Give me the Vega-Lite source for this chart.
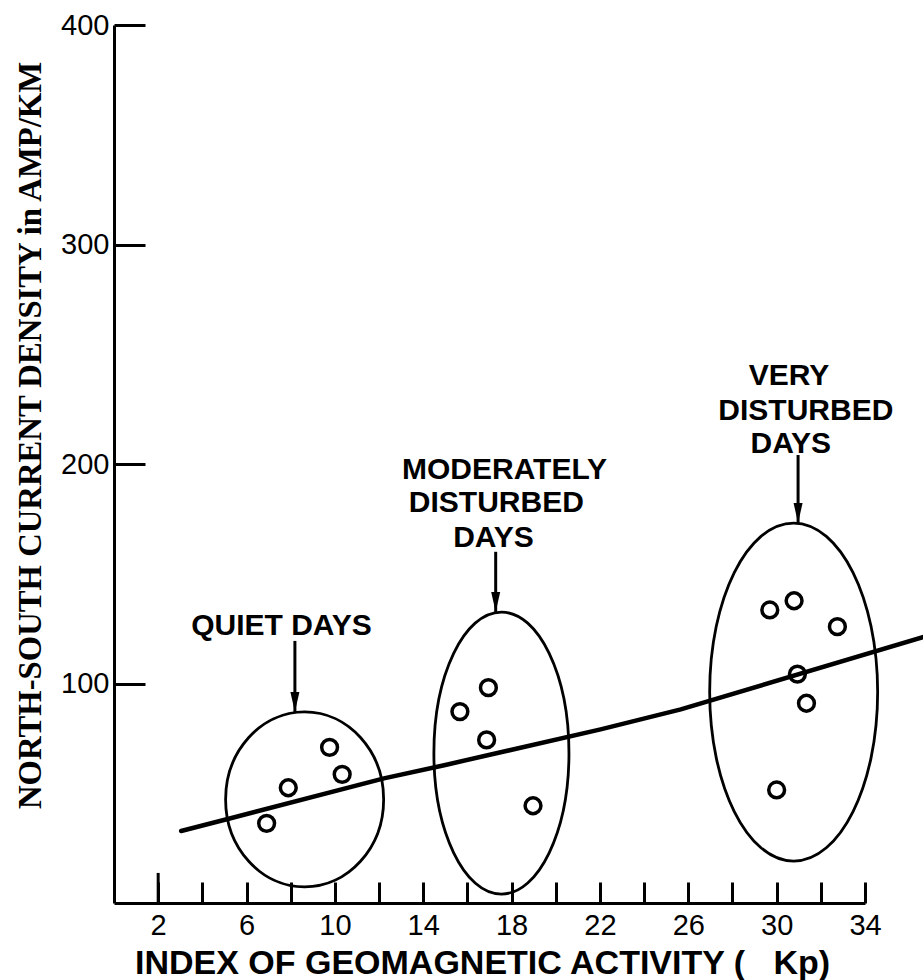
{
  "$schema": "https://vega.github.io/schema/vega-lite/v6.json",
  "width": 751,
  "height": 878,
  "autosize": {"type": "none"},
  "padding": {"left": 114, "top": 25, "right": 58, "bottom": 77},
  "background": "white",
  "config": {"view": {"stroke": null}, "font": "Liberation Sans"},
  "datasets": {
    "points": [
      {"group": "quiet", "x": 9.76, "y": 70.9},
      {"group": "quiet", "x": 10.33, "y": 58.6},
      {"group": "quiet", "x": 7.89, "y": 52.5},
      {"group": "quiet", "x": 6.91, "y": 36.3},
      {"group": "moderate", "x": 16.95, "y": 98.1},
      {"group": "moderate", "x": 15.66, "y": 87.2},
      {"group": "moderate", "x": 16.87, "y": 74.3},
      {"group": "moderate", "x": 18.97, "y": 44.3},
      {"group": "very", "x": 29.69, "y": 133.5},
      {"group": "very", "x": 30.79, "y": 137.7},
      {"group": "very", "x": 32.75, "y": 125.9},
      {"group": "very", "x": 30.94, "y": 104.3},
      {"group": "very", "x": 31.35, "y": 91.0},
      {"group": "very", "x": 30.0, "y": 51.5}
    ],
    "fit": [
      {"x": 3.04, "y": 32.8},
      {"x": 5.28, "y": 38.6},
      {"x": 12.22, "y": 56.8},
      {"x": 15.0, "y": 62.9},
      {"x": 22.03, "y": 79.1},
      {"x": 25.66, "y": 88.2},
      {"x": 36.66, "y": 121.2},
      {"x": 37.3, "y": 123.1}
    ],
    "quiet": [{"x": 8.63, "y": 47.2}],
    "moderate": [{"x": 17.54, "y": 68.3}],
    "very": [{"x": 30.77, "y": 96.1}],
    "arrows": [
      {"x": 8.19, "y": 119.4, "y2": 87.0},
      {"x": 17.28, "y": 160.0, "y2": 132.6},
      {"x": 30.97, "y": 204.1, "y2": 173.1},
      {"x": 2, "y": 13.7, "y2": 0}
    ],
    "heads": [
      {"x": 8.19, "y": 87.0},
      {"x": 17.28, "y": 132.6},
      {"x": 30.97, "y": 173.1}
    ],
    "labels": [
      {"text": "QUIET DAYS", "x": 7.58, "y": 122.1},
      {"text": "MODERATELY", "x": 17.68, "y": 193.3},
      {"text": "DISTURBED", "x": 17.31, "y": 178.3},
      {"text": "DAYS", "x": 17.18, "y": 162.3},
      {"text": "VERY", "x": 30.56, "y": 235.9},
      {"text": "DISTURBED", "x": 31.32, "y": 220.0},
      {"text": "DAYS", "x": 30.64, "y": 204.9}
    ]
  },
  "encoding": {
    "x": {
      "field": "x",
      "type": "quantitative",
      "scale": {"domain": [0, 34], "nice": false, "zero": false},
      "axis": {
        "values": [2, 4, 6, 8, 10, 12, 14, 16, 18, 20, 22, 24, 26, 28, 30, 32, 34],
        "labelExpr": "(datum.value - 2) % 4 == 0 ? datum.label : ''",
        "labelOverlap": false,
        "labelFlush": false,
        "tickSize": -21,
        "tickWidth": 3,
        "tickColor": "black",
        "domainColor": "black",
        "domainWidth": 3,
        "labelPadding": 29,
        "labelFontSize": 29,
        "labelColor": "black",
        "labelFont": "Liberation Sans",
        "grid": false,
        "title": "INDEX OF GEOMAGNETIC ACTIVITY (\u00a0\u00a0\u00a0Kp)",
        "titleFont": "Liberation Sans",
        "titleFontSize": 34,
        "titleFontWeight": "bold",
        "titleColor": "black",
        "titleX": 368,
        "titleY": 70,
        "titleAlign": "center",
        "titleBaseline": "alphabetic"
      }
    },
    "y": {
      "field": "y",
      "type": "quantitative",
      "scale": {"domain": [0, 400], "nice": false, "zero": false},
      "axis": {
        "values": [100, 200, 300, 400],
        "tickSize": -31,
        "tickWidth": 3,
        "tickColor": "black",
        "domainColor": "black",
        "domainWidth": 3,
        "labelPadding": 36,
        "labelFontSize": 29,
        "labelColor": "black",
        "labelFont": "Liberation Sans",
        "labelFlush": false,
        "grid": false,
        "title": "NORTH-SOUTH CURRENT DENSITY in AMP/KM",
        "titleFont": "Liberation Serif",
        "titleFontSize": 32.7,
        "titleFontWeight": "bold",
        "titleColor": "black",
        "titleAngle": 270,
        "titleX": -74,
        "titleY": 410,
        "titleAlign": "center",
        "titleBaseline": "alphabetic"
      }
    }
  },
  "layer": [
    {
      "data": {"name": "fit"},
      "mark": {"type": "line", "color": "black", "strokeWidth": 4.5, "strokeCap": "round", "clip": false}
    },
    {
      "data": {"name": "quiet"},
      "mark": {"type": "point", "shape": "M -0.903 0 A 0.903 1 0 0 1 0.903 0 A 0.903 1 0 0 1 -0.903 0 Z", "size": 30625, "filled": false, "color": "black", "strokeWidth": 2.8, "opacity": 1}
    },
    {
      "data": {"name": "moderate"},
      "mark": {"type": "point", "shape": "M -0.479 0 A 0.479 1 0 0 1 0.479 0 A 0.479 1 0 0 1 -0.479 0 Z", "size": 79524, "filled": false, "color": "black", "strokeWidth": 2.8, "opacity": 1}
    },
    {
      "data": {"name": "very"},
      "mark": {"type": "point", "shape": "M -0.497 0 A 0.497 1 0 0 1 0.497 0 A 0.497 1 0 0 1 -0.497 0 Z", "size": 114244, "filled": false, "color": "black", "strokeWidth": 2.8, "opacity": 1}
    },
    {
      "data": {"name": "points"},
      "mark": {"type": "point", "shape": "circle", "size": 250, "filled": false, "color": "black", "strokeWidth": 3.5, "opacity": 1}
    },
    {
      "data": {"name": "arrows"},
      "mark": {"type": "rule", "color": "black", "strokeWidth": 3},
      "encoding": {"y2": {"field": "y2"}}
    },
    {
      "data": {"name": "heads"},
      "mark": {"type": "point", "shape": "M -0.45 -2 L 0.45 -2 L 0 0 Z", "size": 400, "filled": true, "color": "black", "opacity": 1}
    },
    {
      "data": {"name": "labels"},
      "mark": {"type": "text", "font": "Liberation Sans", "fontWeight": "bold", "fontSize": 30, "align": "center", "baseline": "alphabetic", "color": "black"},
      "encoding": {"text": {"field": "text"}}
    }
  ]
}
